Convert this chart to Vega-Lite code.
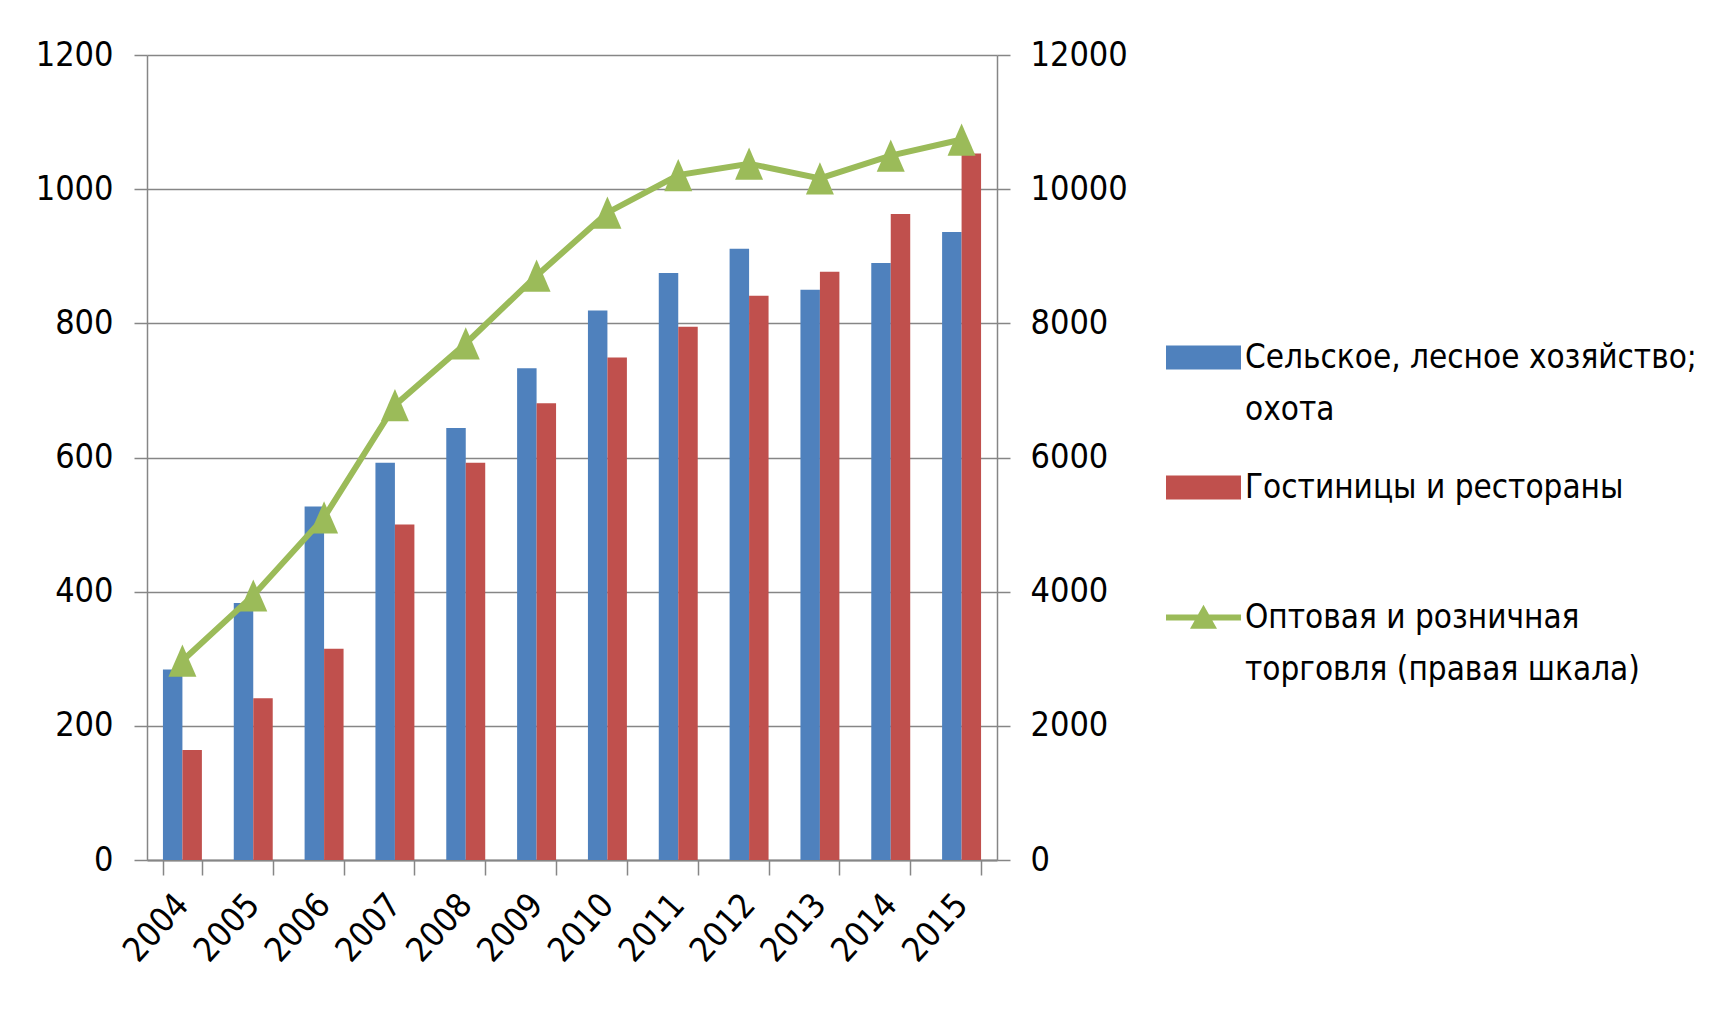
{
  "$schema": "https://vega.github.io/schema/vega-lite/v6.json",
  "width": 850,
  "height": 805,
  "autosize": {"type": "none"},
  "padding": {"left": 147, "top": 55, "right": 717, "bottom": 149},
  "background": "white",
  "config": {
    "font": "DejaVu Sans Condensed",
    "view": {"stroke": null},
    "axis": {
      "labelFont": "DejaVu Sans Condensed",
      "labelFontSize": 34,
      "labelColor": "#000000",
      "domainColor": "#868686",
      "tickColor": "#868686",
      "gridColor": "#868686",
      "domainWidth": 1.5,
      "tickWidth": 1.5,
      "gridWidth": 1.5,
      "title": null
    },
    "legend": {
      "labelFont": "DejaVu Sans Condensed",
      "labelFontSize": 33,
      "labelColor": "#000000"
    }
  },
  "datasets": {
    "sectors": [
      {"year": "2004", "series": "Сельское, лесное хозяйство; охота", "value": 284},
      {"year": "2005", "series": "Сельское, лесное хозяйство; охота", "value": 383},
      {"year": "2006", "series": "Сельское, лесное хозяйство; охота", "value": 527},
      {"year": "2007", "series": "Сельское, лесное хозяйство; охота", "value": 592},
      {"year": "2008", "series": "Сельское, лесное хозяйство; охота", "value": 644},
      {"year": "2009", "series": "Сельское, лесное хозяйство; охота", "value": 733},
      {"year": "2010", "series": "Сельское, лесное хозяйство; охота", "value": 819},
      {"year": "2011", "series": "Сельское, лесное хозяйство; охота", "value": 875},
      {"year": "2012", "series": "Сельское, лесное хозяйство; охота", "value": 911},
      {"year": "2013", "series": "Сельское, лесное хозяйство; охота", "value": 850},
      {"year": "2014", "series": "Сельское, лесное хозяйство; охота", "value": 890},
      {"year": "2015", "series": "Сельское, лесное хозяйство; охота", "value": 936},
      {"year": "2004", "series": "Гостиницы и рестораны", "value": 164},
      {"year": "2005", "series": "Гостиницы и рестораны", "value": 241},
      {"year": "2006", "series": "Гостиницы и рестораны", "value": 315},
      {"year": "2007", "series": "Гостиницы и рестораны", "value": 500},
      {"year": "2008", "series": "Гостиницы и рестораны", "value": 592},
      {"year": "2009", "series": "Гостиницы и рестораны", "value": 681},
      {"year": "2010", "series": "Гостиницы и рестораны", "value": 749},
      {"year": "2011", "series": "Гостиницы и рестораны", "value": 795},
      {"year": "2012", "series": "Гостиницы и рестораны", "value": 841},
      {"year": "2013", "series": "Гостиницы и рестораны", "value": 877},
      {"year": "2014", "series": "Гостиницы и рестораны", "value": 963},
      {"year": "2015", "series": "Гостиницы и рестораны", "value": 1053}
    ],
    "trade": [
      {"year": "2004", "trade": 2971},
      {"year": "2005", "trade": 3943},
      {"year": "2006", "trade": 5106},
      {"year": "2007", "trade": 6780},
      {"year": "2008", "trade": 7700},
      {"year": "2009", "trade": 8710},
      {"year": "2010", "trade": 9650},
      {"year": "2011", "trade": 10210},
      {"year": "2012", "trade": 10380},
      {"year": "2013", "trade": 10160},
      {"year": "2014", "trade": 10500},
      {"year": "2015", "trade": 10740}
    ]
  },
  "encoding": {
    "x": {
      "field": "year",
      "type": "nominal",
      "scale": {"paddingInner": 0.45, "paddingOuter": 0.225},
      "axis": {
        "labelAngle": -48,
        "labelAlign": "right",
        "labelBaseline": "middle",
        "tickBand": "extent",
        "tickSize": 15,
        "labelPadding": 24,
        "domainWidth": 2
      }
    }
  },
  "layer": [
    {
      "data": {"name": "sectors"},
      "mark": {"type": "bar"},
      "encoding": {
        "xOffset": {
          "field": "series",
          "type": "nominal",
          "sort": ["Сельское, лесное хозяйство; охота", "Гостиницы и рестораны"],
          "scale": {"paddingInner": 0, "paddingOuter": 0}
        },
        "y": {
          "field": "value",
          "type": "quantitative",
          "scale": {"domain": [0, 1200], "nice": false},
          "axis": {
            "orient": "left",
            "values": [0, 200, 400, 600, 800, 1000, 1200],
            "grid": true,
            "tickSize": 13,
            "labelPadding": 21,
            "format": "d"
          }
        },
        "color": {
          "field": "series",
          "type": "nominal",
          "scale": {
            "domain": [
              "Сельское, лесное хозяйство; охота",
              "Гостиницы и рестораны",
              "Оптовая и розничная торговля (правая шкала)"
            ],
            "range": ["#4F81BD", "#C0504D", "#9BBB59"]
          },
          "legend": {
            "title": null,
            "orient": "none",
            "legendX": 1019,
            "legendY": 265,
            "symbolSize": 5625,
            "symbolStrokeWidth": 0,
            "symbolOpacity": 1,
            "labelOffset": 4,
            "labelLimit": 800,
            "gridAlign": "all",
            "rowPadding": 23,
            "labelExpr": "datum.label == 'Сельское, лесное хозяйство; охота' ? ['Сельское, лесное хозяйство;', 'охота'] : datum.label == 'Оптовая и розничная торговля (правая шкала)' ? ['Оптовая и розничная', 'торговля (правая шкала)'] : datum.label",
            "encode": {
              "labels": {"update": {"lineHeight": {"value": 52}}},
              "symbols": {
                "update": {
                  "shape": {"signal": "datum.value == 'Оптовая и розничная торговля (правая шкала)' ? 'M-1,-0.08L1,-0.08L1,0.08L-1,0.08Z M-0.36,0.3L0,-0.34L0.36,0.3Z' : 'M-1,-0.32L1,-0.32L1,0.32L-1,0.32Z'"}
                }
              }
            }
          }
        }
      }
    },
    {
      "data": {"name": "trade"},
      "mark": {
        "type": "line",
        "color": "#9BBB59",
        "strokeWidth": 6,
        "point": {
          "shape": "M0,-1.15L1,1.15L-1,1.15Z",
          "filled": true,
          "size": 784,
          "color": "#9BBB59",
          "opacity": 1
        }
      },
      "encoding": {
        "y": {
          "field": "trade",
          "type": "quantitative",
          "scale": {"domain": [0, 12000], "nice": false},
          "axis": {
            "orient": "right",
            "values": [0, 2000, 4000, 6000, 8000, 10000, 12000],
            "grid": false,
            "tickSize": 13,
            "labelPadding": 20,
            "format": "d"
          }
        }
      }
    }
  ],
  "resolve": {"scale": {"y": "independent"}}
}
